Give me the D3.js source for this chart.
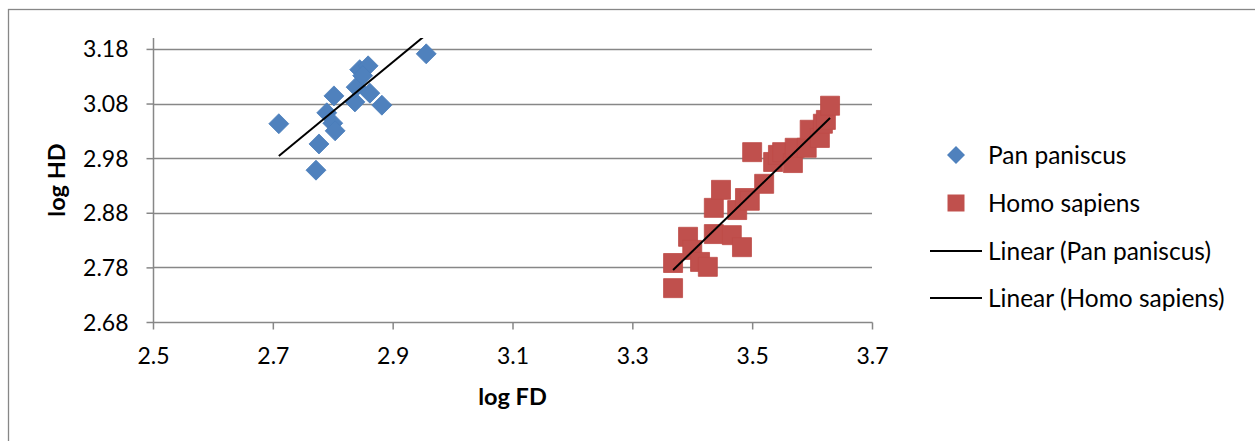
<!DOCTYPE html>
<html>
<head>
<meta charset="utf-8">
<script src="https://cdn.jsdelivr.net/npm/d3@7"></script>
<style>
  html, body { margin: 0; padding: 0; background: #fff; }
  svg { display: block; font-family: Lato, "Open Sans", sans-serif; }
  .tick-label { font-size: 23px; fill: #000; }
  .axis-title { font-size: 23.5px; font-weight: bold; fill: #000; }
  .legend-text { font-size: 24.5px; fill: #000; }
</style>
</head>
<body>
<svg id="chart" width="1255" height="441"></svg>
<script>
"use strict";

/* values */
const panFD = [2.710, 2.772, 2.777, 2.790, 2.802, 2.800, 2.804, 2.837, 2.839, 2.845, 2.859, 2.850, 2.862, 2.882, 2.956];
const panHD = [3.043, 2.958, 3.006, 3.063, 3.094, 3.044, 3.030, 3.083, 3.110, 3.142, 3.149, 3.131, 3.099, 3.077, 3.171];

const homoFD = [3.368, 3.368, 3.393, 3.400, 3.413, 3.426, 3.436, 3.436, 3.448, 3.466, 3.483, 3.475, 3.488, 3.496,
                3.500, 3.520, 3.535, 3.543, 3.550, 3.568, 3.571, 3.591, 3.596, 3.613, 3.618, 3.623, 3.630];
const homoHD = [2.742, 2.788, 2.836, 2.812, 2.790, 2.781, 2.841, 2.889, 2.922, 2.839, 2.817, 2.885, 2.907, 2.902,
                2.991, 2.933, 2.973, 2.986, 2.991, 2.971, 2.999, 2.999, 3.032, 3.017, 3.043, 3.050, 3.076];

/* linear trendlines: [slope, intercept] */
const panFit = [0.903, 0.537];
const homoFit = [1.063, -0.805];

const xTicks = [2.5, 2.7, 2.9, 3.1, 3.3, 3.5, 3.7];
const yTicks = [2.68, 2.78, 2.88, 2.98, 3.08, 3.18];
const xDomain = [2.5, 3.7];
const yDomain = [2.68, 3.2];

const seriesNames = ["Pan paniscus", "Homo sapiens", "Linear (Pan paniscus)", "Linear (Homo sapiens)"];

const BLUE = "#4f81bd";
const RED = "#c0504d";
const GRID = "#878787";

const svg = d3.select("#chart");
const plot = { left: 153, right: 872, top: 38, bottom: 322 };

const x = d3.scaleLinear(xDomain, [plot.left, plot.right]);
const y = d3.scaleLinear(yDomain, [plot.bottom, plot.top]);

/* outer chart frame (right/bottom edges fall outside the picture) */
svg.append("rect")
  .attr("x", 8.5).attr("y", 9.5)
  .attr("width", 1300).attr("height", 500)
  .attr("fill", "none").attr("stroke", GRID).attr("stroke-width", 1.3);

svg.append("defs").append("clipPath").attr("id", "plot-clip")
  .append("rect")
  .attr("x", plot.left).attr("y", plot.top)
  .attr("width", plot.right - plot.left).attr("height", plot.bottom - plot.top);

/* horizontal gridlines */
svg.append("g")
  .selectAll("line")
  .data(yTicks.slice(1))
  .join("line")
  .attr("x1", plot.left).attr("x2", plot.right)
  .attr("y1", (d) => Math.round(y(d)) + 0.5).attr("y2", (d) => Math.round(y(d)) + 0.5)
  .attr("stroke", GRID).attr("stroke-width", 1.5);

/* axes */
const xAxis = svg.append("g")
  .attr("transform", `translate(0,${plot.bottom + 0.5})`)
  .call(d3.axisBottom(x).tickValues(xTicks).tickSize(7).tickFormat(d3.format(".1f")));
const yAxis = svg.append("g")
  .attr("transform", `translate(${plot.left + 0.5},0)`)
  .call(d3.axisLeft(y).tickValues(yTicks).tickSize(7).tickFormat(d3.format(".2f")));

for (const ax of [xAxis, yAxis]) {
  ax.attr("font-size", null).attr("font-family", null);
  ax.select(".domain").remove();
  ax.selectAll(".tick line").attr("stroke", GRID).attr("stroke-width", 1.5);
  ax.selectAll(".tick text").attr("class", "tick-label");
}
xAxis.selectAll(".tick text").attr("dy", null).attr("y", 41.5);
yAxis.selectAll(".tick text").attr("x", -25).attr("dy", "0.35em");

svg.append("line")
  .attr("x1", plot.left + 0.5).attr("x2", plot.left + 0.5)
  .attr("y1", plot.top).attr("y2", plot.bottom + 0.5)
  .attr("stroke", GRID).attr("stroke-width", 1.5);
svg.append("line")
  .attr("x1", plot.left).attr("x2", plot.right + 0.5)
  .attr("y1", plot.bottom + 0.5).attr("y2", plot.bottom + 0.5)
  .attr("stroke", GRID).attr("stroke-width", 1.5);

/* axis titles */
svg.append("text").attr("class", "axis-title")
  .attr("x", (plot.left + plot.right) / 2).attr("y", 405)
  .attr("text-anchor", "middle").text("log FD");
svg.append("text").attr("class", "axis-title")
  .attr("transform", `translate(65,${(plot.top + plot.bottom) / 2}) rotate(-90)`)
  .attr("text-anchor", "middle").text("log HD");

/* markers */
const diamond = (r) => `M0,${-r}L${r},0L0,${r}L${-r},0Z`;
const square = (h) => `M${-h},${-h}H${h}V${h}H${-h}Z`;

svg.append("g")
  .selectAll("path")
  .data(panFD.map((v, i) => [v, panHD[i]]))
  .join("path")
  .attr("d", diamond(10))
  .attr("transform", (d) => `translate(${x(d[0])},${y(d[1])})`)
  .attr("fill", BLUE).attr("stroke", "#4a7ebb").attr("stroke-width", 0.8);

svg.append("g")
  .selectAll("path")
  .data(homoFD.map((v, i) => [v, homoHD[i]]))
  .join("path")
  .attr("d", square(9.5))
  .attr("transform", (d) => `translate(${x(d[0])},${y(d[1])})`)
  .attr("fill", RED).attr("stroke", "#be4b48").attr("stroke-width", 0.8);

/* trendlines over each series' x range */
const trend = svg.append("g").attr("clip-path", "url(#plot-clip)");
for (const [xs, fit] of [[panFD, panFit], [homoFD, homoFit]]) {
  const [x0, x1] = d3.extent(xs);
  trend.append("line")
    .attr("x1", x(x0)).attr("y1", y(fit[0] * x0 + fit[1]))
    .attr("x2", x(x1)).attr("y2", y(fit[0] * x1 + fit[1]))
    .attr("stroke", "#000").attr("stroke-width", 2);
}

/* legend */
const legendRows = [155, 203, 251, 298];
const legend = svg.append("g");
legend.append("path").attr("d", diamond(9))
  .attr("transform", `translate(956,${legendRows[0]})`).attr("fill", BLUE);
legend.append("path").attr("d", square(8.5))
  .attr("transform", `translate(956,${legendRows[1]})`).attr("fill", RED);
for (const row of legendRows.slice(2)) {
  legend.append("line").attr("x1", 930).attr("x2", 982)
    .attr("y1", row).attr("y2", row).attr("stroke", "#000").attr("stroke-width", 2);
}
legend.selectAll("text")
  .data(seriesNames)
  .join("text")
  .attr("class", "legend-text")
  .attr("x", 988)
  .attr("y", (d, i) => legendRows[i])
  .attr("dy", "0.35em")
  .text((d) => d);
</script>
</body>
</html>
